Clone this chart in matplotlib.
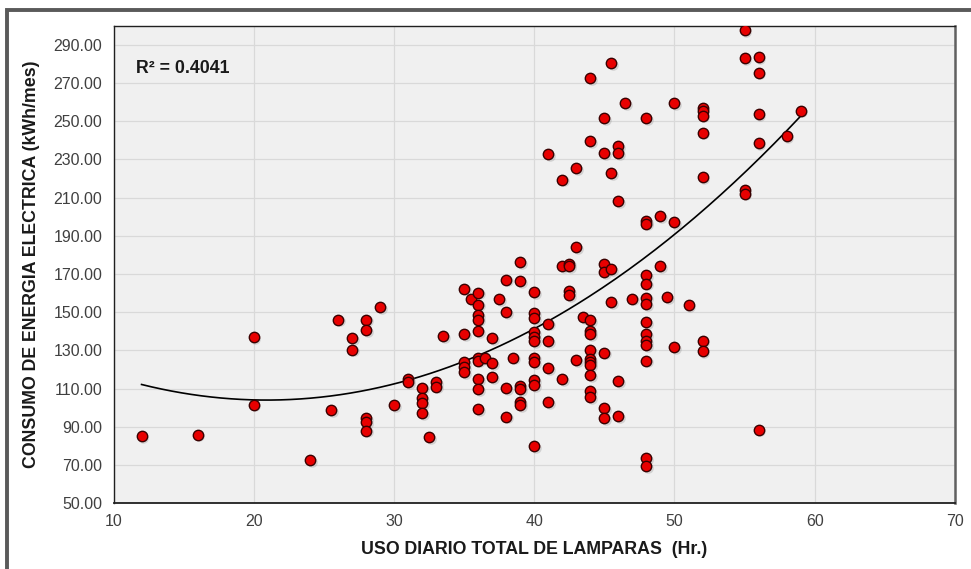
import numpy as np
import matplotlib
matplotlib.use('Agg')
import matplotlib.pyplot as plt
from matplotlib.lines import Line2D

# hours of lamp use per day (x) and monthly consumption (y)
usoHoras = [12, 16, 20, 20, 24, 25.5, 26, 27, 27,
            28, 28, 28, 28, 28, 29, 30, 31, 31,
            32, 32, 32, 32, 32.5, 33, 33, 33.5,
            35, 35, 35, 35, 35, 35.5,
            36, 36, 36, 36, 36, 36, 36, 36, 36, 36, 36.5,
            37, 37, 37, 37.5, 38, 38, 38, 38, 38.5,
            39, 39, 39, 39, 39, 39,
            40, 40, 40, 40, 40, 40, 40, 40, 40, 40, 40,
            41, 41, 41, 41, 41, 42, 42, 42, 42.5, 42.5, 42.5, 42.5,
            43, 43, 43, 43.5,
            44, 44, 44, 44, 44, 44, 44, 44, 44, 44, 44, 44,
            45, 45, 45, 45, 45, 45, 45, 45.5, 45.5, 45.5, 45.5,
            46, 46, 46, 46, 46, 46.5, 47,
            48, 48, 48, 48, 48, 48, 48, 48, 48, 48, 48, 48, 48, 48,
            49, 49, 49.5, 50, 50, 50, 51,
            52, 52, 52, 52, 52, 52, 52,
            55, 55, 55, 55, 56, 56, 56, 56, 56, 58, 59]
consumo = [85, 86, 137, 101.6, 72.5, 98.8, 146.2, 136.6, 130.5,
           146.2, 140.6, 94.4, 92.5, 88, 152.8, 101.4, 114.8, 113.6,
           110.5, 105.2, 102.3, 97.1, 84.8, 113.3, 111, 137.6,
           162.4, 138.4, 124, 121.4, 118.8, 156.7,
           160.3, 154, 148.5, 146.2, 140.3, 125.8, 124.6, 115, 109.6, 99.2, 125.8,
           136.6, 123.2, 115.9, 156.7, 167.1, 150.2, 110.1, 95.3, 126.3,
           176.3, 166.4, 111.3, 109.6, 102.8, 101.4,
           160.6, 149.7, 147, 139.7, 137.1, 135, 126.3, 123.7, 114.5, 111.9, 80,
           232.6, 144.1, 134.9, 120.6, 102.8, 219.4, 174.1, 114.8, 175.5, 174.1, 161.2, 158.9,
           225.5, 184.2, 124.9, 147.6,
           272.5, 239.6, 145.8, 140.3, 138.5, 130.2, 125.6, 123.9, 122.3, 117.1, 108.7, 105.4,
           251.6, 233.3, 175.1, 171.1, 128.8, 99.7, 94.4, 280.4, 222.9, 172.4, 155.4,
           236.8, 233.3, 208.2, 114, 95.8, 259.5, 157.2,
           251.6, 197.8, 196.4, 169.6, 165, 157.7, 154.2, 145, 138.5, 134.9, 132.8, 124.6, 73.5, 69.5,
           200.2, 174.2, 158, 259.5, 197.2, 131.6, 153.7,
           257, 255.1, 253, 244, 220.8, 134.9, 129.6,
           297.8, 283, 213.8, 212.1, 283.5, 275.4, 253.7, 238.5, 88.5, 242.2, 255.6]

xTicks = [10, 20, 30, 40, 50, 60, 70]
yTicks = [50, 70, 90, 110, 130, 150, 170, 190, 210, 230, 250, 270, 290]
r2Text = 'R² = 0.4041'


def main():
    plt.rcParams['font.family'] = ['Liberation Sans', 'DejaVu Sans']
    x = np.array(usoHoras, dtype=float)
    y = np.array(consumo, dtype=float)

    fig = plt.figure(figsize=(9.71, 5.69), dpi=100)
    ax = fig.add_axes([0.1169, 0.1155, 0.8666, 0.8393])
    ax.set_facecolor('#f0f0f0')

    # excel style 2nd order trendline
    coeffs = np.polyfit(x, y, 2)
    polyx = np.linspace(x.min(), x.max(), 200)
    ax.plot(polyx, np.polyval(coeffs, polyx), color='black', lw=1.2, zorder=2)

    # soft shadow under the markers
    ax.scatter(x + 0.12, y - 0.9, s=58, color='#999999', alpha=0.35,
               linewidths=0, zorder=3)
    ax.scatter(x, y, s=56, color='#e80000', edgecolors='#3a0000',
               linewidths=1.0, zorder=4)

    ax.set_xlim(10, 70)
    ax.set_ylim(50, 300)
    ax.set_xticks(xTicks)
    ax.set_yticks(yTicks)
    ax.set_yticklabels(['%.2f' % v for v in yTicks])
    ax.tick_params(length=0, labelsize=11.5, labelcolor='#404040', pad=8)
    ax.grid(True, color='#d9d9d9', lw=0.9)
    ax.set_axisbelow(True)

    for side in ['left', 'bottom', 'top']:
        ax.spines[side].set_color('#202020')
        ax.spines[side].set_linewidth(1.0)
    ax.spines['bottom'].set_linewidth(1.3)
    ax.spines['right'].set_color('#606060')
    ax.spines['right'].set_linewidth(1.8)

    ax.set_xlabel('USO DIARIO TOTAL DE LAMPARAS  (Hr.)', fontsize=12.8,
                  fontweight='bold', color='#1a1a1a', labelpad=8)
    ax.set_ylabel('CONSUMO DE ENERGIA ELECTRICA (kWh/mes)', fontsize=12.8,
                  fontweight='bold', color='#1a1a1a', labelpad=10)
    ax.text(0.027, 0.911, r2Text, transform=ax.transAxes, fontsize=12.8,
            fontweight='bold', color='#1a1a1a', va='center', ha='left')

    # dark frame around the chart (cut off at right and bottom)
    frame = Line2D([6.5 / 971, 6.5 / 971, 1.0], [0.0, 1 - 10 / 569, 1 - 10 / 569],
                   transform=fig.transFigure, color='#5a5a5a', lw=2.8,
                   solid_joinstyle='miter')
    fig.add_artist(frame)

    fig.savefig('out.png', dpi=100)


if __name__ == '__main__':
    main()
